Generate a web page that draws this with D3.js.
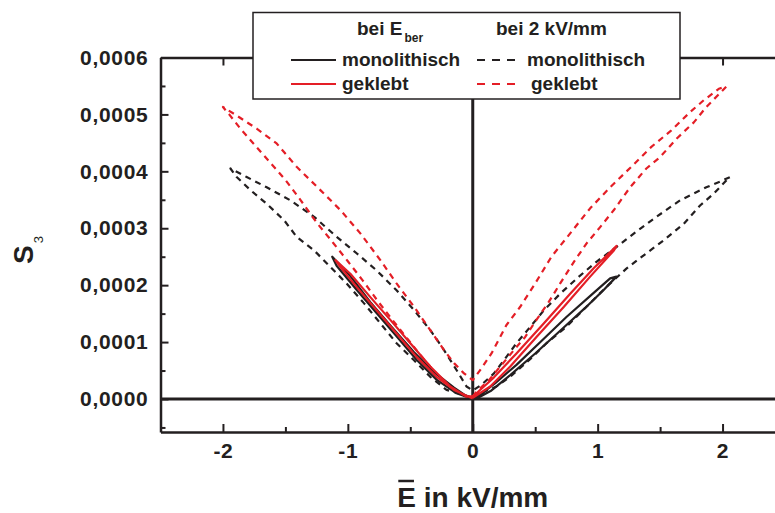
<!DOCTYPE html>
<html>
<head>
<meta charset="utf-8">
<script src="https://cdn.jsdelivr.net/npm/d3@7"></script>
<style>
  html, body { margin: 0; padding: 0; background: #fff; }
  svg { display: block; font-family: "Liberation Sans", Arial, Helvetica, sans-serif; font-weight: bold; }
</style>
</head>
<body>
<svg id="chart" width="775" height="513"></svg>
<script>
// ---- axis ticks ----
const fieldTicks = [-2, -1, 0, 1, 2];
const fieldMinorTicks = [-1.5, -0.5, 0.5, 1.5];
const strainTicks = [0, 0.0001, 0.0002, 0.0003, 0.0004, 0.0005, 0.0006];
const strainMinorTicks = [-0.00005, 0.00005, 0.00015, 0.00025, 0.00035, 0.00045, 0.00055];

// ---- monolithisch, bei E_ber (field in kV/mm, strain S3) ----
const fieldMonoBer = [0, 0.05, 0.15, 0.30, 0.50, 0.70, 0.90, 1.05, 1.15, 1.10, 0.95, 0.75, 0.55, 0.35, 0.18, 0.05, 0,
  -0.05, -0.15, -0.31, -0.47, -0.66, -0.82, -0.98, -1.125, -1.09, -0.93, -0.77, -0.61, -0.45, -0.29, -0.13, 0];
const strainMonoBer = [0, 0.03e-4, 0.15e-4, 0.42e-4, 0.80e-4, 1.20e-4, 1.60e-4, 1.92e-4, 2.15e-4, 2.12e-4, 1.83e-4, 1.44e-4, 1.02e-4, 0.60e-4, 0.28e-4, 0.06e-4, 0.02e-4,
  0.05e-4, 0.20e-4, 0.47e-4, 0.82e-4, 1.29e-4, 1.70e-4, 2.16e-4, 2.50e-4, 2.34e-4, 1.92e-4, 1.51e-4, 1.10e-4, 0.69e-4, 0.34e-4, 0.10e-4, 0];

// ---- geklebt, bei E_ber ----
const fieldKlebBer = [0, 0.14, 0.30, 0.51, 0.73, 0.94, 1.13, 1.152, 0.97, 0.78, 0.57, 0.35, 0.17, 0.03, 0,
  -0.05, -0.18, -0.34, -0.50, -0.66, -0.82, -0.98, -1.10, -1.06, -0.93, -0.77, -0.61, -0.45, -0.29, -0.15, 0];
const strainKlebBer = [0.02e-4, 0.22e-4, 0.57e-4, 1.09e-4, 1.62e-4, 2.15e-4, 2.61e-4, 2.69e-4, 2.30e-4, 1.85e-4, 1.33e-4, 0.80e-4, 0.38e-4, 0.10e-4, 0.05e-4,
  0.04e-4, 0.22e-4, 0.57e-4, 0.98e-4, 1.39e-4, 1.79e-4, 2.20e-4, 2.44e-4, 2.32e-4, 1.97e-4, 1.56e-4, 1.15e-4, 0.74e-4, 0.39e-4, 0.16e-4, 0.01e-4];

// ---- monolithisch, bei 2 kV/mm ----
const fieldMono2 = [0, 0.06, 0.19, 0.30, 0.45, 0.59, 0.75, 0.91, 1.07, 1.23, 1.39, 1.53, 1.69, 1.82, 1.93, 2.03, 2.06,
  1.98, 1.87, 1.66, 1.47, 1.31, 1.15, 0.99, 0.85, 0.70, 0.57, 0.45, 0.35, 0.26, 0.17, 0.07, 0,
  -0.05, -0.13, -0.23, -0.34, -0.47, -0.61, -0.77, -0.93, -1.09, -1.27, -1.46, -1.65, -1.81, -1.94,
  -1.89, -1.78, -1.65, -1.51, -1.41, -1.27, -1.14, -1.01, -0.87, -0.74, -0.61, -0.47, -0.34, -0.21, -0.07, 0];
const strainMono2 = [0.02e-4, 0.10e-4, 0.22e-4, 0.39e-4, 0.68e-4, 0.98e-4, 1.27e-4, 1.62e-4, 1.97e-4, 2.29e-4, 2.56e-4, 2.79e-4, 3.08e-4, 3.40e-4, 3.61e-4, 3.84e-4, 3.90e-4,
  3.82e-4, 3.72e-4, 3.49e-4, 3.20e-4, 2.94e-4, 2.67e-4, 2.41e-4, 2.15e-4, 1.85e-4, 1.56e-4, 1.24e-4, 0.98e-4, 0.71e-4, 0.45e-4, 0.25e-4, 0.15e-4,
  0.22e-4, 0.51e-4, 0.86e-4, 1.21e-4, 1.56e-4, 1.91e-4, 2.26e-4, 2.56e-4, 2.85e-4, 3.20e-4, 3.49e-4, 3.72e-4, 3.90e-4, 4.05e-4,
  3.90e-4, 3.67e-4, 3.43e-4, 3.14e-4, 2.85e-4, 2.61e-4, 2.32e-4, 2.03e-4, 1.68e-4, 1.33e-4, 0.98e-4, 0.68e-4, 0.39e-4, 0.16e-4, 0.07e-4, 0.02e-4];

// ---- geklebt, bei 2 kV/mm ----
const fieldKleb2 = [0, 0.03, 0.13, 0.22, 0.33, 0.42, 0.51, 0.61, 0.70, 0.81, 0.91, 1.02, 1.13, 1.26, 1.39, 1.50, 1.63, 1.77, 1.87, 2.00, 2.03,
  1.97, 1.85, 1.74, 1.59, 1.43, 1.27, 1.10, 0.94, 0.78, 0.63, 0.50, 0.38, 0.27, 0.15, 0.07, 0,
  -0.07, -0.15, -0.23, -0.34, -0.47, -0.61, -0.74, -0.90, -1.06, -1.22, -1.41, -1.57, -1.73, -1.89, -2.00,
  -1.95, -1.86, -1.74, -1.62, -1.50, -1.38, -1.25, -1.12, -1.00, -0.88, -0.76, -0.64, -0.52, -0.40, -0.28, -0.16, -0.06, 0];
const strainKleb2 = [0.04e-4, 0.13e-4, 0.33e-4, 0.57e-4, 0.86e-4, 1.09e-4, 1.39e-4, 1.71e-4, 2.03e-4, 2.41e-4, 2.73e-4, 3.02e-4, 3.32e-4, 3.72e-4, 4.05e-4, 4.25e-4, 4.57e-4, 4.86e-4, 5.13e-4, 5.42e-4, 5.49e-4,
  5.45e-4, 5.25e-4, 5.04e-4, 4.72e-4, 4.43e-4, 4.08e-4, 3.72e-4, 3.35e-4, 2.91e-4, 2.50e-4, 2.03e-4, 1.62e-4, 1.30e-4, 0.80e-4, 0.54e-4, 0.33e-4,
  0.45e-4, 0.63e-4, 0.86e-4, 1.21e-4, 1.62e-4, 2.03e-4, 2.44e-4, 2.91e-4, 3.32e-4, 3.67e-4, 4.08e-4, 4.49e-4, 4.75e-4, 4.98e-4, 5.13e-4,
  5.00e-4, 4.75e-4, 4.45e-4, 4.15e-4, 3.85e-4, 3.50e-4, 3.10e-4, 2.75e-4, 2.42e-4, 2.08e-4, 1.72e-4, 1.38e-4, 1.05e-4, 0.72e-4, 0.42e-4, 0.18e-4, 0.05e-4, 0.02e-4];

// ---- legend labels ----
const legendHeaders = ["bei E", "bei 2 kV/mm"];
const legendSub = "ber";
const legendNames = ["monolithisch", "geklebt"];

const INK = "#231f20";
const RED = "#e41e26";

const svg = d3.select("#chart");
const plot = { left: 160.5, right: 785, top: 57.5, bottom: 432 };

const x = d3.scaleLinear().domain([-2.5, 2.5]).range([plot.left, plot.right]);
const y = d3.scaleLinear().domain([-0.000058, 0.0006]).range([plot.bottom, plot.top]);

const deLocale = d3.formatLocale({ decimal: ",", thousands: ".", grouping: [3], currency: ["", " €"] });
const fmtStrain = deLocale.format(".4f");
const fmtField = d => (d < 0 ? "-" : "") + Math.abs(d);

function styleAxis(g, withDomain) {
  g.select(".domain").attr("stroke", INK).attr("stroke-width", 2.5);
  if (!withDomain) g.select(".domain").remove();
  g.selectAll(".tick line").attr("stroke", INK).attr("stroke-width", 2);
  g.selectAll(".tick text")
    .attr("fill", INK)
    .style("font-family", '"Liberation Sans", Arial, sans-serif')
    .style("font-weight", "bold")
    .style("font-size", "21px")
    .style("letter-spacing", "0.7px");
}

// zero lines
svg.append("line")
  .attr("x1", plot.left).attr("x2", plot.right)
  .attr("y1", y(0)).attr("y2", y(0))
  .attr("stroke", INK).attr("stroke-width", 3);
svg.append("line")
  .attr("x1", x(0)).attr("x2", x(0))
  .attr("y1", plot.top).attr("y2", plot.bottom)
  .attr("stroke", INK).attr("stroke-width", 3);

// bottom axis
svg.append("g").attr("transform", `translate(0,${plot.bottom})`)
  .call(d3.axisBottom(x).tickValues(fieldTicks).tickFormat(fmtField).tickSizeInner(-8).tickSizeOuter(0).tickPadding(11))
  .call(g => styleAxis(g, true));
svg.append("g").attr("transform", `translate(0,${plot.bottom})`)
  .call(d3.axisBottom(x).tickValues(fieldMinorTicks).tickFormat("").tickSizeInner(-5).tickSizeOuter(0))
  .call(g => styleAxis(g, false));

// top axis
svg.append("g").attr("transform", `translate(0,${plot.top})`)
  .call(d3.axisTop(x).tickValues(fieldTicks).tickFormat("").tickSizeInner(-8).tickSizeOuter(0))
  .call(g => styleAxis(g, true));
svg.append("g").attr("transform", `translate(0,${plot.top})`)
  .call(d3.axisTop(x).tickValues(fieldMinorTicks).tickFormat("").tickSizeInner(-5).tickSizeOuter(0))
  .call(g => styleAxis(g, false));

// left axis
svg.append("g").attr("transform", `translate(${plot.left},0)`)
  .call(d3.axisLeft(y).tickValues(strainTicks).tickFormat(fmtStrain).tickSizeInner(-8).tickSizeOuter(0).tickPadding(12))
  .call(g => styleAxis(g, true));
svg.append("g").attr("transform", `translate(${plot.left},0)`)
  .call(d3.axisLeft(y).tickValues(strainMinorTicks).tickFormat("").tickSizeInner(-5).tickSizeOuter(0))
  .call(g => styleAxis(g, false));

// curves
const zip = (E, S) => E.map((e, i) => ({ E: e, S: S[i] }));
const line = d3.line().x(d => x(d.E)).y(d => y(d.S));

const series = [
  { data: zip(fieldMono2, strainMono2), color: INK, dash: "6,5" },
  { data: zip(fieldKleb2, strainKleb2), color: RED, dash: "6,5" },
  { data: zip(fieldMonoBer, strainMonoBer), color: INK, dash: null },
  { data: zip(fieldKlebBer, strainKlebBer), color: RED, dash: null }
];

svg.append("g").selectAll("path").data(series).join("path")
  .attr("d", d => line(d.data))
  .attr("fill", "none")
  .attr("stroke", d => d.color)
  .attr("stroke-width", 2.2)
  .attr("stroke-linejoin", "round")
  .attr("stroke-dasharray", d => d.dash);

// axis titles
const xTitle = svg.append("text")
  .attr("x", x(0)).attr("y", 507)
  .attr("text-anchor", "middle")
  .attr("fill", INK)
  .style("font-size", "28px")
  .text("E in kV/mm");
const ext = xTitle.node().getExtentOfChar(0);
svg.append("line")
  .attr("x1", ext.x + 1).attr("x2", ext.x + ext.width - 2)
  .attr("y1", 481).attr("y2", 481)
  .attr("stroke", INK).attr("stroke-width", 2.5);

const yTitle = svg.append("text")
  .attr("transform", "translate(32.5,264) rotate(-90)")
  .attr("fill", INK);
yTitle.append("tspan").style("font-size", "28px").text("S");
yTitle.append("tspan").attr("dy", 10).attr("dx", 2).style("font-size", "13px").style("font-weight", "normal").text("3");

// legend
const lg = svg.append("g");
lg.append("rect")
  .attr("x", 253).attr("y", 12.5).attr("width", 427).attr("height", 86.5)
  .attr("fill", "#fff").attr("stroke", INK).attr("stroke-width", 1.5);

const h1 = lg.append("text").attr("x", 357).attr("y", 35).attr("fill", INK).style("font-size", "19px");
h1.append("tspan").text(legendHeaders[0]);
h1.append("tspan").attr("dy", 7).attr("dx", 2).style("font-size", "12px").text(legendSub);
lg.append("text").attr("x", 496).attr("y", 35).attr("fill", INK).style("font-size", "19px").text(legendHeaders[1]);

const legendRows = [
  { name: legendNames[0], color: INK, yy: 60 },
  { name: legendNames[1], color: RED, yy: 84 }
];
legendRows.forEach(r => {
  lg.append("line").attr("x1", 291).attr("x2", 336).attr("y1", r.yy).attr("y2", r.yy)
    .attr("stroke", r.color).attr("stroke-width", 2);
  lg.append("text").attr("x", 342).attr("y", r.yy + 6).attr("fill", INK).style("font-size", "19px").text(r.name);
  lg.append("line").attr("x1", 477).attr("x2", 519).attr("y1", r.yy).attr("y2", r.yy)
    .attr("stroke", r.color).attr("stroke-width", 2).attr("stroke-dasharray", "8,7");
  lg.append("text").attr("x", r.color === RED ? 531 : 527).attr("y", r.yy + 6).attr("fill", INK).style("font-size", "19px").text(r.name);
});
</script>
</body>
</html>
